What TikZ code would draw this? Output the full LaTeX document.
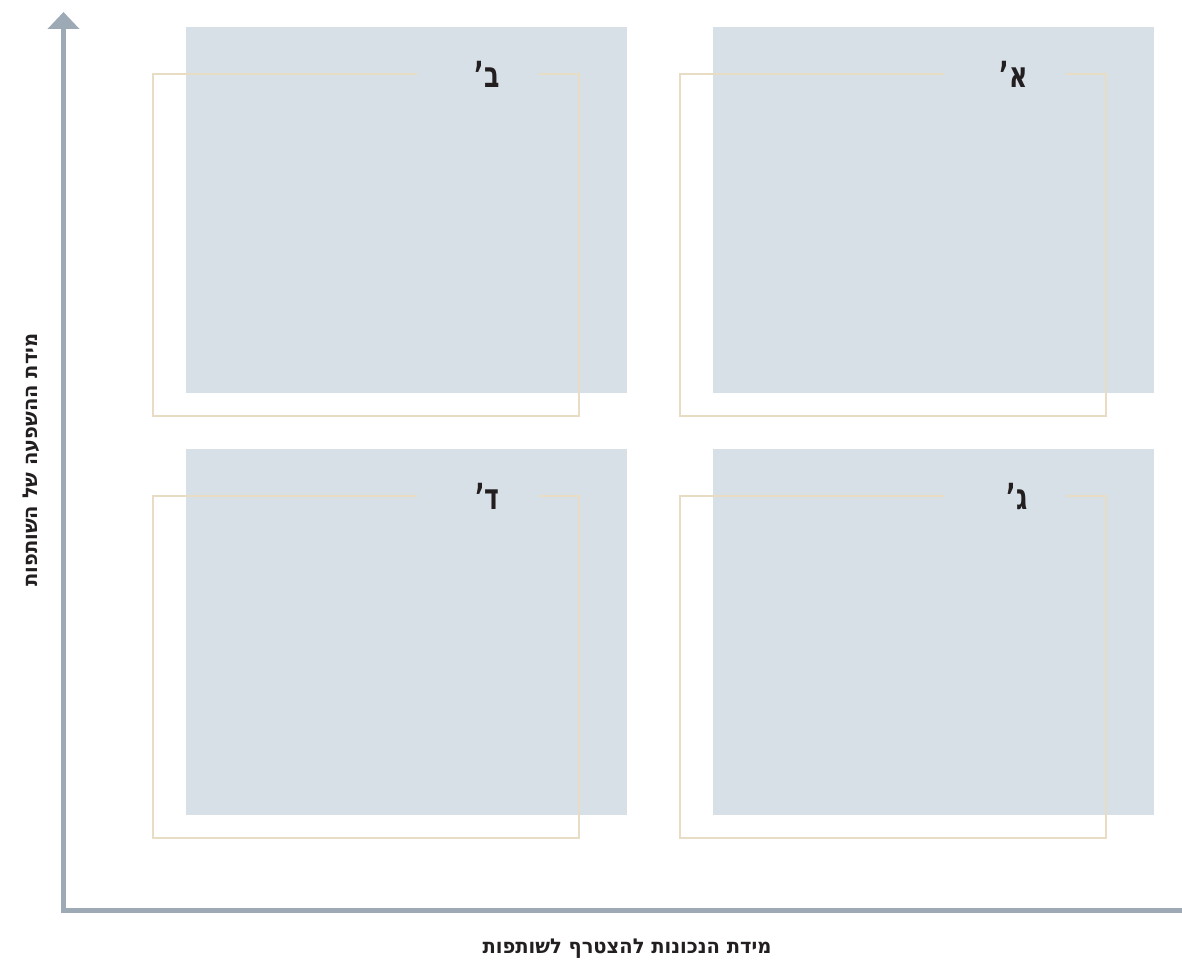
\documentclass[tikz,border=0pt]{standalone}
\usepackage{fontspec}
\usetikzlibrary{arrows.meta}
\setmainfont{Liberation Sans}
\newfontfamily\hebfont[Script=Hebrew]{DejaVu Sans}
\TeXXeTstate=1
\definecolor{axisgray}{HTML}{9DAAB5}
\definecolor{quadblue}{HTML}{D8E0E7}
\definecolor{framegold}{HTML}{E8DDC4}
\definecolor{textdark}{HTML}{231F20}
\newcommand{\quadlab}[1]{\scalebox{0.7}[1]{\beginR #1\endR}}
\newcommand{\axtext}[1]{\scalebox{0.95}[1]{\beginR #1\endR}}
\tikzset{
  quad/.style={fill=quadblue, draw=none, inner sep=0pt, anchor=north west, minimum width=441pt, minimum height=366pt},
  frame/.style={draw=framegold, line width=1.4pt},
  lab/.style={font=\hebfont\bfseries\fontsize{36}{40}\selectfont, text=textdark, inner sep=0pt, anchor=base east},
  axislab/.style={font=\hebfont\bfseries\fontsize{20.5}{24}\selectfont, text=textdark, inner sep=0pt, anchor=base},
  axisline/.style={draw=axisgray, line width=5pt, line join=miter}
}
\begin{document}
\begin{tikzpicture}[x=1pt,y=-1pt]
\useasboundingbox (0,0) rectangle (1182,966);
% quadrants
\node[quad] (qB) at (186,27) {};
\node[quad] (qA) at (713,27) {};
\node[quad] (qD) at (186,449) {};
\node[quad] (qG) at (713,449) {};
% gold frames with gap
\draw[frame] (417,74) -- (153,74) -- (153,416) -- (579,416) -- (579,74) -- (539,74);
\draw[frame] (944,74) -- (680,74) -- (680,416) -- (1106,416) -- (1106,74) -- (1066,74);
\draw[frame] (417,496) -- (153,496) -- (153,838) -- (579,838) -- (579,496) -- (539,496);
\draw[frame] (944,496) -- (680,496) -- (680,838) -- (1106,838) -- (1106,496) -- (1066,496);
% labels
\node[lab] (lB) at (500,87) {\quadlab{ב’}};
\node[lab] (lA) at (1028,87) {\quadlab{א’}};
\node[lab] (lD) at (500,509) {\quadlab{ד’}};
\node[lab] (lG) at (1028,509) {\quadlab{ג’}};
% axes
\coordinate (xend) at (1182,910);
\coordinate (origin) at (63.5,910);
\coordinate (ytip) at (63.5,12);
\draw[axisline, -{Triangle[width=31pt,length=17pt]}] (xend) -- (origin) -- (ytip);
% axis labels
\node[axislab] (xlab) at (627,953) {\axtext{מידת הנכונות להצטרף לשותפות}};
\node[axislab, rotate=90] (ylab) at (37,460) {\axtext{מידת ההשפעה של השותפות}};
\end{tikzpicture}
\end{document}
